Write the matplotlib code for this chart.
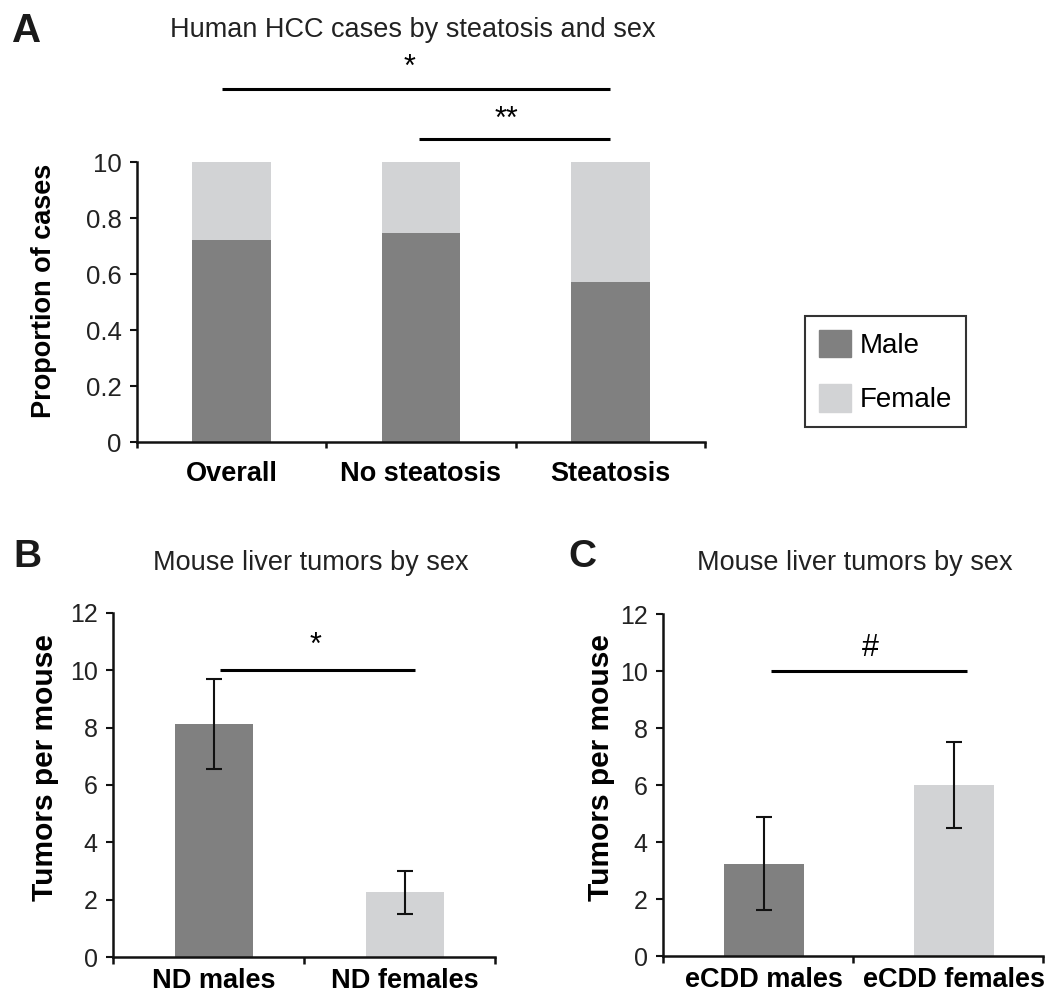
import matplotlib
matplotlib.use("Agg")
import matplotlib.pyplot as plt
from matplotlib.patches import Patch

plt.rcParams['font.family'] = ['Liberation Sans', 'DejaVu Sans']

# --- data ---
hcc_groups = ['Overall', 'No steatosis', 'Steatosis']
hcc_male = [0.72, 0.745, 0.57]
hcc_female = [1 - v for v in hcc_male]
hcc_yticks = [0, 0.2, 0.4, 0.6, 0.8, 1.0]
hcc_yticklabels = ['0', '0.2', '0.4', '0.6', '0.8', '10']

nd_groups = ['ND males', 'ND females']
nd_means = [8.13, 2.26]
nd_err = [1.57, 0.75]

ecdd_groups = ['eCDD males', 'eCDD females']
ecdd_means = [3.23, 6.0]
ecdd_err = [1.63, 1.5]

mouse_yticks = [0, 2, 4, 6, 8, 10, 12]

MALE = '#808080'
FEMALE = '#d2d3d5'
W, H = 1045, 997


def style_axes(ax, ysize, xpad):
    for s in ['top', 'right']:
        ax.spines[s].set_visible(False)
    for s in ['left', 'bottom']:
        ax.spines[s].set_linewidth(1.8)
        ax.spines[s].set_color('#111111')
    ax.tick_params(axis='y', direction='out', length=5, width=1.5,
                   labelsize=ysize, pad=6, colors='#111111', labelcolor='#222222')
    ax.tick_params(axis='x', which='both', length=0, labelsize=19.5, pad=xpad)
    for t in ax.get_xticklabels():
        t.set_fontweight('bold')


def boundary_ticks(ax, bounds):
    # category boundary ticks pointing down (Excel style)
    lo, hi = ax.get_ylim()
    for b in bounds:
        ax.plot([b, b], [lo, lo - 0.02 * (hi - lo)], color='#111111', lw=1.8,
                clip_on=False, solid_capstyle='butt')


def sig_line(ax, x0, x1, y, label, tx, ty):
    ax.plot([x0, x1], [y, y], color='black', lw=2.2, clip_on=False,
            solid_capstyle='butt')
    ax.text(tx, ty, label, ha='center', va='center', fontsize=22, clip_on=False)


fig = plt.figure(figsize=(W / 100, H / 100), dpi=100)

# ---- panel A ----
axA = fig.add_axes([137 / W, 1 - 442 / H, 568 / W, 280 / H])
xa = list(range(len(hcc_groups)))
axA.bar(xa, hcc_male, width=0.417, color=MALE, label='Male')
axA.bar(xa, hcc_female, width=0.417, bottom=hcc_male, color=FEMALE, label='Female')
axA.set_xlim(-0.5, 2.5)
axA.set_ylim(0, 1.0)
axA.set_yticks(hcc_yticks)
axA.set_yticklabels(hcc_yticklabels)
axA.set_xticks(xa)
axA.set_xticklabels(hcc_groups)
style_axes(axA, 18.5, 14)
boundary_ticks(axA, [-0.5, 0.5, 1.5, 2.5])
axA.set_ylabel('Proportion of cases', fontsize=19.5, fontweight='bold')
axA.yaxis.set_label_coords(-0.14, 0.54)
sig_line(axA, -0.05, 2.0, 1.26, '*', 0.94, 1.335)
sig_line(axA, 0.99, 2.0, 1.082, '**', 1.45, 1.15)

leg = fig.legend(handles=[Patch(color=MALE, label='Male'),
                          Patch(color=FEMALE, label='Female')],
                 loc='upper left', bbox_to_anchor=(805 / W, 1 - 316 / H),
                 fontsize=20, frameon=True, fancybox=False, edgecolor='black',
                 handlelength=1.15, handleheight=1.15, handletextpad=0.32,
                 borderpad=0.5, labelspacing=0.9, borderaxespad=0)
leg.get_frame().set_linewidth(1.5)

fig.text(413 / W, 1 - 37 / H, 'Human HCC cases by steatosis and sex',
         ha='center', va='baseline', fontsize=19.5, color='#222222')
fig.text(27 / W, 1 - 42 / H, 'A', ha='center', va='baseline', fontsize=29,
         fontweight='bold', color='#1a1a1a')

# ---- panel B ----
axB = fig.add_axes([113 / W, 1 - 957 / H, 382 / W, 344 / H])
xb = list(range(len(nd_groups)))
axB.bar(xb, nd_means, width=0.41, color=[MALE, FEMALE])
axB.errorbar(xb, nd_means, yerr=nd_err, fmt='none', ecolor='#111111',
             elinewidth=1.5, capsize=5.5, capthick=1.5)
axB.set_xlim(-0.53, 1.47)
axB.set_ylim(0, 12)
axB.set_yticks(mouse_yticks)
axB.set_xticks(xb)
axB.set_xticklabels(nd_groups)
style_axes(axB, 18, 8)
boundary_ticks(axB, [-0.53, 0.47, 1.47])
axB.set_ylabel('Tumors per mouse', fontsize=21.5, fontweight='bold')
axB.yaxis.set_label_coords(-0.142, 0.552)
sig_line(axB, 0.03, 1.05, 10.0, '*', 0.53, 10.85)

fig.text(311 / W, 1 - 570 / H, 'Mouse liver tumors by sex', ha='center',
         va='baseline', fontsize=19.5, color='#222222')
fig.text(27 / W, 1 - 567 / H, 'B', ha='center', va='baseline', fontsize=28,
         fontweight='bold', color='#1a1a1a')

# ---- panel C ----
axC = fig.add_axes([663 / W, 1 - 956 / H, 380 / W, 342 / H])
xc = list(range(len(ecdd_groups)))
axC.bar(xc, ecdd_means, width=0.42, color=[MALE, FEMALE])
axC.errorbar(xc, ecdd_means, yerr=ecdd_err, fmt='none', ecolor='#111111',
             elinewidth=1.5, capsize=5.5, capthick=1.5)
axC.set_xlim(-0.53, 1.47)
axC.set_ylim(0, 12)
axC.set_yticks(mouse_yticks)
axC.set_xticks(xc)
axC.set_xticklabels(ecdd_groups)
style_axes(axC, 18, 8)
boundary_ticks(axC, [-0.53, 0.47, 1.47])
axC.set_ylabel('Tumors per mouse', fontsize=21.5, fontweight='bold')
axC.yaxis.set_label_coords(-0.126, 0.552)
sig_line(axC, 0.04, 1.07, 10.0, '#', 0.56, 10.8)

fig.text(855 / W, 1 - 570 / H, 'Mouse liver tumors by sex', ha='center',
         va='baseline', fontsize=19.5, color='#222222')
fig.text(582 / W, 1 - 567 / H, 'C', ha='center', va='baseline', fontsize=28,
         fontweight='bold', color='#1a1a1a')

fig.savefig('out.png', dpi=100)
